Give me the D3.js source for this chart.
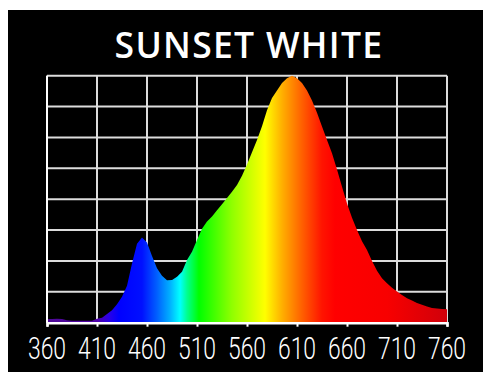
<!DOCTYPE html>
<html>
<head>
<meta charset="utf-8">
<script src="https://cdn.jsdelivr.net/npm/d3@7"></script>
<style>
html,body{margin:0;padding:0;background:#fff;}
svg{display:block;}
</style>
</head>
<body>
<svg id="chart" width="483" height="372"></svg>
<script>
const title = "SUNSET WHITE";
const wavelengths = [360,365,370,375,380,385,390,395,400,405,410,415,420,425,430,435,440,445,450,455,460,465,470,475,480,485,490,495,500,505,510,515,520,525,530,535,540,545,550,555,560,565,570,575,580,585,590,595,600,605,610,615,620,625,630,635,640,645,650,655,660,665,670,675,680,685,690,695,700,705,710,715,720,725,730,735,740,745,750,755,760];
const intensity = [1.5,1.5,1.6,1.5,1.0,0.8,0.8,0.8,0.8,0.8,1.6,2.0,3.5,5,7.5,10.5,15,24,32,34.5,32.5,27,22,19,17.2,17.3,18.6,20.6,25.4,28.7,33.5,38,41,43,45.5,48,50.5,53,55.7,59.5,64,69,74,79.5,86,91,94,97,99,100,99,97,94,90,85,79.4,74,68.6,62,55,48.3,42.5,37.5,33,29.4,25,21,18,16,14.2,12.6,11.2,9.9,9,8,7.3,6.6,6,5.7,5.5,5.4];
const tickValues = [360,410,460,510,560,610,660,710,760];
const gridY = [0,12.5,25,37.5,50,62.5,75,87.5,100];
const colorStopsNm = [360,410,422,432,455,470,483,493,500,512,545,578,595,615,635,648,700,760];
const colorStopsCol = ["#4e0a96","#5000a8","#2a00e8","#0000ff","#0010ff","#0060ff","#00b0ff","#00ffff","#00ff90","#00ff00","#90ff00","#ffff00","#ffb000","#ff6000","#ff1400","#ff0000","#f80000","#d0000a"];

const svg = d3.select("#chart");
svg.append("rect").attr("x",8).attr("y",10).attr("width",475).attr("height",362).attr("fill","#000");

const x = d3.scaleLinear().domain([360,760]).range([47,447]);
const y = d3.scaleLinear().domain([0,100]).range([322.7,75.7]);

svg.append("text").attr("x",249).attr("y",57.5).attr("text-anchor","middle")
  .attr("fill","#fff").attr("font-family","'Open Sans', sans-serif").attr("font-weight",600)
  .attr("font-size",35.5).attr("letter-spacing",1.3).text(title);

// grid
const grid = svg.append("g").attr("stroke","#dcdcdc").attr("stroke-width",2);
tickValues.forEach(v=>{
  grid.append("line").attr("x1",x(v)).attr("x2",x(v)).attr("y1",y(100)).attr("y2",y(0));
});
gridY.forEach(v=>{
  grid.append("line").attr("x1",x(360)).attr("x2",x(760)).attr("y1",y(v)).attr("y2",y(v));
});

// gradient
const defs = svg.append("defs");
const grad = defs.append("linearGradient").attr("id","spec").attr("gradientUnits","userSpaceOnUse")
  .attr("x1",x(360)).attr("x2",x(760)).attr("y1",0).attr("y2",0);
colorStopsNm.forEach((nm,i)=>{
  grad.append("stop").attr("offset",(nm-360)/400).attr("stop-color",colorStopsCol[i]);
});

const data = wavelengths.map((w,i)=>({w, v: intensity[i]}));
const area = d3.area().x(d=>x(d.w)).y0(y(0)).y1(d=>y(d.v)).curve(d3.curveLinear);
svg.append("path").datum(data).attr("d",area).attr("fill","url(#spec)");

// axes
const xAxis = d3.axisBottom(x).tickValues(tickValues).tickSize(4).tickFormat("");
const gx = svg.append("g").attr("transform",`translate(0,${y(0)})`).call(xAxis);
gx.select(".domain").attr("stroke","#fff").attr("stroke-width",2.5);
gx.selectAll(".tick line").attr("stroke","#fff").attr("stroke-width",2);
svg.append("line").attr("x1",x(360)).attr("x2",x(360)).attr("y1",y(100)).attr("y2",y(0)).attr("stroke","#fff").attr("stroke-width",2);

// tick labels
tickValues.forEach(v=>{
  svg.append("text").attr("transform",`translate(${x(v)},359) scale(0.74,1)`)
    .attr("text-anchor","middle").attr("fill","#fff")
    .attr("font-family","Roboto, 'Liberation Sans', sans-serif").attr("font-weight",300).attr("font-size",31)
    .text(v);
});
</script>
</body>
</html>
